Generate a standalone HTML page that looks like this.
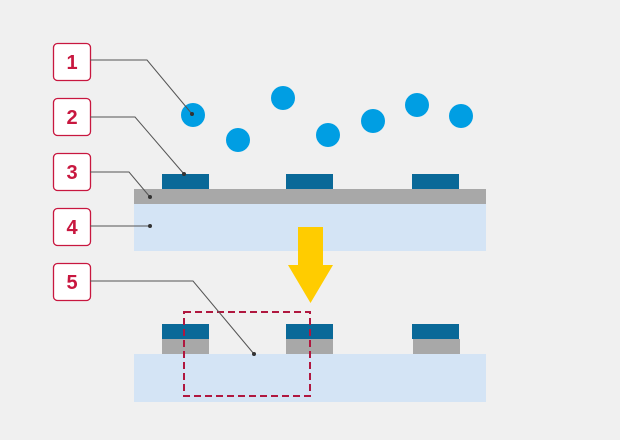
<!DOCTYPE html>
<html><head><style>html,body{margin:0;padding:0;background:#f0f0f0}</style></head><body>
<svg width="620" height="440" viewBox="0 0 620 440" xmlns="http://www.w3.org/2000/svg" style="display:block">
<rect width="620" height="440" fill="#f0f0f0"/>
<g fill="#fff" stroke="#c8173f" stroke-width="1.3">
<rect x="53.5" y="43.5" width="37" height="37" rx="4"/>
<rect x="53.5" y="98.5" width="37" height="37" rx="4"/>
<rect x="53.5" y="153.5" width="37" height="37" rx="4"/>
<rect x="53.5" y="208.5" width="37" height="37" rx="4"/>
<rect x="53.5" y="263.5" width="37" height="37" rx="4"/>
</g>
<g font-family="Liberation Sans, sans-serif" font-size="20" font-weight="bold" fill="#c8173f" text-anchor="middle">
<text x="72" y="69">1</text><text x="72" y="124">2</text><text x="72" y="179">3</text><text x="72" y="234">4</text><text x="72" y="289">5</text>
</g>
<rect x="134" y="204" width="352" height="47" fill="#d4e4f5"/>
<rect x="134" y="189" width="352" height="15" fill="#a8a8a8"/>
<g fill="#0a6998">
<rect x="162" y="174" width="47" height="15"/><rect x="286" y="174" width="47" height="15"/><rect x="412" y="174" width="47" height="15"/>
</g>
<g fill="#009ee3">
<circle cx="193" cy="115" r="12"/><circle cx="238" cy="140" r="12"/><circle cx="283" cy="98" r="12"/><circle cx="328" cy="135" r="12"/><circle cx="373" cy="121" r="12"/><circle cx="417" cy="105" r="12"/><circle cx="461" cy="116" r="12"/>
</g>
<polygon points="298,227 323,227 323,265 333,265 310.5,303 288,265 298,265" fill="#ffcc00"/>
<rect x="134" y="354" width="352" height="48" fill="#d4e4f5"/>
<g fill="#a8a8a8"><rect x="162" y="339" width="47" height="15"/><rect x="286" y="339" width="47" height="15"/><rect x="413" y="339" width="47" height="15"/></g>
<g fill="#0a6998"><rect x="162" y="324" width="47" height="15"/><rect x="286" y="324" width="47" height="15"/><rect x="412" y="324" width="47" height="15"/></g>
<rect x="184" y="312" width="126" height="84" fill="none" stroke="#b0173f" stroke-width="2" stroke-dasharray="7,4"/>
<g fill="none" stroke-width="1">
<polyline points="90,60 147,60 192,114" stroke="#555"/>
<polyline points="90,117 135,117 184,174" stroke="#555"/>
<polyline points="90,172 129,172 150,197" stroke="#555"/>
<polyline points="90,226 150,226" stroke="#555"/>
<polyline points="90,281 193,281 254,354" stroke="#555"/>
</g>
<g fill="#333"><circle cx="192" cy="114" r="2"/><circle cx="184" cy="174" r="2"/><circle cx="150" cy="197" r="2"/><circle cx="150" cy="226" r="2"/><circle cx="254" cy="354" r="2"/></g>
</svg>
</body></html>
